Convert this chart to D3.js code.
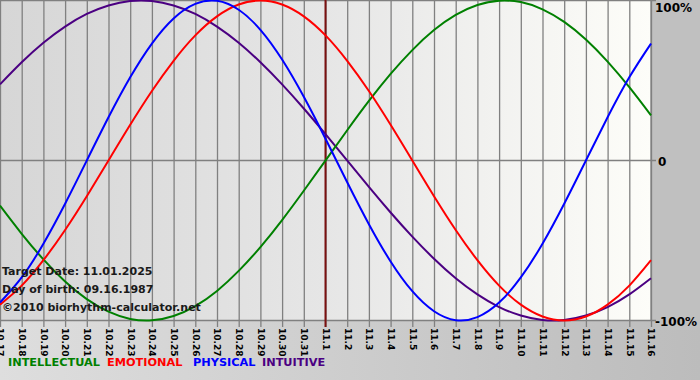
<!DOCTYPE html>
<html><head><meta charset="utf-8">
<script src="https://cdn.jsdelivr.net/npm/d3@7"></script>
<style>html,body{margin:0;padding:0;background:#c8c8c8;}svg{display:block;}</style>
</head><body>
<script>
const dates = ["10.17","10.18","10.19","10.20","10.21","10.22","10.23","10.24","10.25","10.26","10.27","10.28","10.29","10.30","10.31","11.1","11.2","11.3","11.4","11.5","11.6","11.7","11.8","11.9","11.10","11.11","11.12","11.13","11.14","11.15","11.16"];
const intellectual = [-0.282,-0.458,-0.618,-0.756,-0.866,-0.945,-0.990,-0.999,-0.972,-0.910,-0.815,-0.690,-0.541,-0.372,-0.189,0.000,0.189,0.372,0.541,0.690,0.815,0.910,0.972,0.999,0.990,0.945,0.866,0.756,0.618,0.458,0.282];
const emotional = [-0.901,-0.782,-0.623,-0.434,-0.223,0.000,0.223,0.434,0.623,0.782,0.901,0.975,1.000,0.975,0.901,0.782,0.623,0.434,0.223,0.000,-0.223,-0.434,-0.623,-0.782,-0.901,-0.975,-1.000,-0.975,-0.901,-0.782,-0.623];
const physical = [-0.888,-0.731,-0.520,-0.270,0.000,0.270,0.520,0.731,0.888,0.979,0.998,0.942,0.817,0.631,0.398,0.136,-0.136,-0.398,-0.631,-0.817,-0.942,-0.998,-0.979,-0.888,-0.731,-0.520,-0.270,0.000,0.270,0.520,0.731];
const intuitive = [0.476,0.614,0.736,0.837,0.916,0.969,0.997,0.997,0.969,0.916,0.837,0.736,0.614,0.476,0.325,0.165,0.000,-0.165,-0.325,-0.476,-0.614,-0.736,-0.837,-0.916,-0.969,-0.997,-0.997,-0.969,-0.916,-0.837,-0.736];
const yTicks = [1, 0, -1];
const yTickLabels = ["100%", "0", "-100%"];
const targetDate = "11.1";
const seriesNames = ["INTELLECTUAL","EMOTIONAL","PHYSICAL","INTUITIVE"];
const seriesColors = ["#008000","#ff0000","#0000ff","#4b0082"];
const infoLines = ["Target Date: 11.01.2025","Day of birth: 09.16.1987","©2010 biorhythm-calculator.net"];

const W = 700, H = 380;
const plotL = 0, plotR = 651, plotT = 0, plotB = 321;
const svg = d3.select("body").append("svg").attr("width", W).attr("height", H);
const defs = svg.append("defs");
const bg = defs.append("linearGradient").attr("id","bg").attr("x1","0").attr("x2","1").attr("y1","0").attr("y2","0");
bg.append("stop").attr("offset","0").attr("stop-color","#dedede");
bg.append("stop").attr("offset","1").attr("stop-color","#bcbcbc");
const pg = defs.append("linearGradient").attr("id","pg").attr("x1","0").attr("x2","1").attr("y1","0").attr("y2","0");
pg.append("stop").attr("offset","0").attr("stop-color","#d6d6d6");
pg.append("stop").attr("offset","0.5").attr("stop-color","#e6e6e6");
pg.append("stop").attr("offset","1").attr("stop-color","#fdfdf9");

svg.append("rect").attr("width", W).attr("height", H).attr("fill","url(#bg)");
svg.append("rect").attr("x", plotR).attr("y", 0).attr("width", W-plotR).attr("height", 330).attr("fill","#c0c0c0");
svg.append("rect").attr("x", plotL).attr("y", plotT).attr("width", plotR-plotL).attr("height", plotB-plotT).attr("fill","url(#pg)");

const x = d3.scalePoint().domain(dates).range([plotL, plotR]);
const y = d3.scaleLinear().domain([-1, 1]).range([320.5, 0.5]);

// vertical grid + ticks
const xAxis = d3.axisBottom(x).tickSize(plotB - plotT + 6).tickPadding(3);
const gx = svg.append("g").attr("transform", `translate(0,${plotT})`).call(xAxis);
gx.select(".domain").remove();
gx.selectAll(".tick line").attr("stroke","#808080").attr("stroke-width",1.3);
gx.selectAll(".tick text")
  .attr("transform", "translate(0,328) rotate(90)")
  .attr("x", 0).attr("y", 0).attr("dy", "0.35em")
  .attr("text-anchor","start")
  .attr("font-family","DejaVu Sans").attr("font-weight","bold").attr("font-size","9px").attr("fill","#000");

// horizontal grid: zero line and borders
svg.append("g").selectAll("line").data(yTicks).join("line")
  .attr("x1", plotL).attr("x2", plotR + 5)
  .attr("y1", d => y(d)).attr("y2", d => y(d))
  .attr("stroke","#808080").attr("stroke-width",1.3);
svg.append("line").attr("x1", plotR).attr("x2", plotR).attr("y1", 0).attr("y2", plotB)
  .attr("stroke","#808080").attr("stroke-width",1.3);

svg.append("g").selectAll("text").data(yTicks).join("text")
  .attr("x", d => d === 0 ? 658 : 655)
  .attr("y", (d,i) => [ 12, 166, 326 ][i])
  .attr("font-family","DejaVu Sans").attr("font-weight","bold").attr("font-size","12px").attr("fill","#000")
  .text((d,i) => yTickLabels[i]);

// target line
svg.append("line").attr("x1", x(targetDate)).attr("x2", x(targetDate))
  .attr("y1", 0).attr("y2", plotB + 6).attr("stroke","#7a1010").attr("stroke-width",2);

// curves
const allSeries = [intellectual, emotional, physical, intuitive];
const line = d3.line().x((d,i) => x(dates[i])).y(d => y(d)).curve(d3.curveNatural);
const order = [3,0,1,2];
const cg = svg.append("g");
order.forEach(k => {
  cg.append("path").attr("d", line(allSeries[k])).attr("fill","none")
    .attr("stroke", seriesColors[k]).attr("stroke-width", 2);
});

// info text
svg.append("g").selectAll("text").data(infoLines).join("text")
  .attr("x", 2).attr("y", (d,i) => 275 + i*18)
  .attr("font-family","DejaVu Sans").attr("font-weight","bold").attr("font-size","11px").attr("fill","#1a1a1a")
  .text(d => d);

// legend
const legendX = [8, 107, 193, 262];
svg.append("g").selectAll("text").data(seriesNames).join("text")
  .attr("x", (d,i) => legendX[i]).attr("y", 366)
  .attr("font-family","DejaVu Sans").attr("font-weight","bold").attr("font-size","11.3px")
  .attr("fill", (d,i) => seriesColors[i])
  .text(d => d);
</script>
</body></html>
